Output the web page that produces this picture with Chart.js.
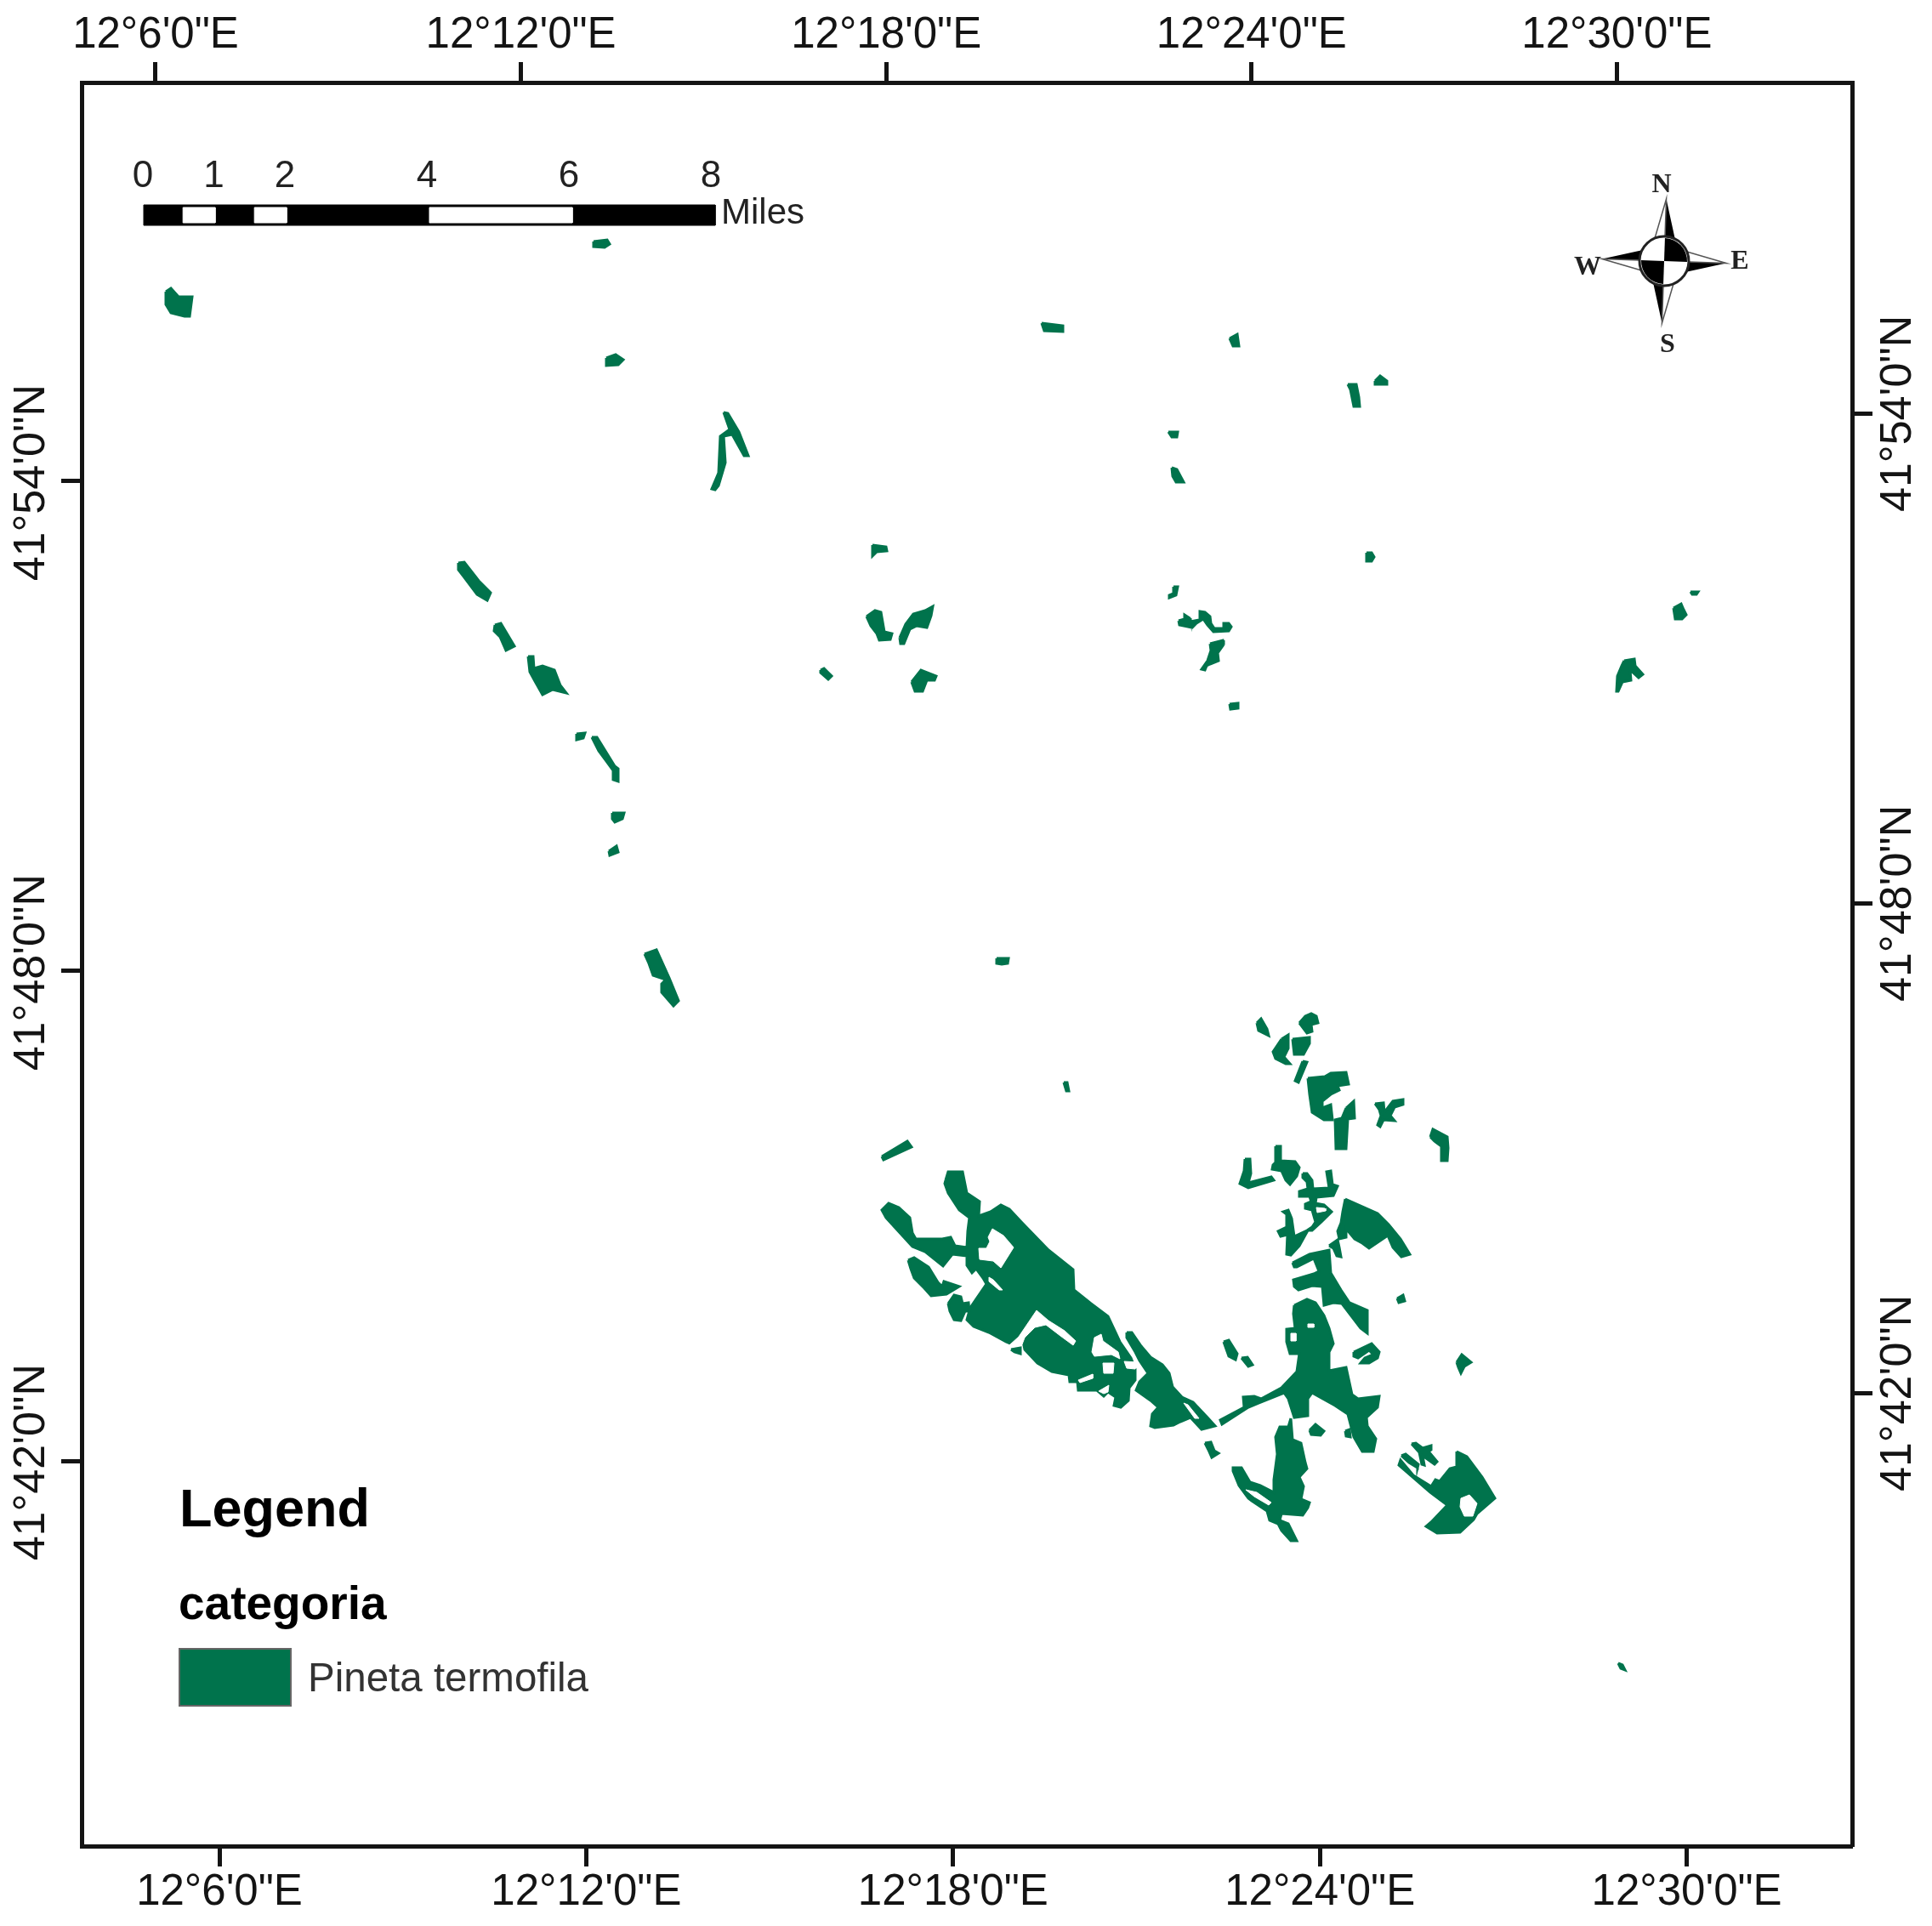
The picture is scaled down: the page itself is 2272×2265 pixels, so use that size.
<!DOCTYPE html>
<html>
<head>
<meta charset="utf-8">
<title>Pineta termofila</title>
<style>
  html, body { margin: 0; padding: 0; background: #fff; }
  canvas { display: block; }
</style>
<script src="https://cdn.jsdelivr.net/npm/chart.js@4/dist/chart.umd.js"></script>
</head>
<body>
<canvas id="myChart" width="2272" height="2265"></canvas>
<script>
// graticule, in arc minutes past 12 deg E and 41 deg N
const lonTicks = [6, 12, 18, 24, 30];
const lonTickLabels = ['12°6\'0"E', '12°12\'0"E', '12°18\'0"E', '12°24\'0"E', '12°30\'0"E'];
const latTicks = [42, 48, 54];
const latTickLabels = ['41°42\'0"N', '41°48\'0"N', '41°54\'0"N'];

// scale bar
const barMiles = [0, 1, 2, 4, 6, 8];
const barWhite = [[0.55, 1], [1.55, 2], [4, 6]];

const patchMain = [1112,1388, 1115,1378, 1132,1378, 1137,1403, 1152,1413, 1151,1430, 1165,1425, 1177,1417, 1187,1422, 1202,1438, 1233,1470, 1262,1493, 1263,1517, 1283,1533, 1303,1548, 1310,1563, 1317,1578, 1330,1597, 1335,1610, 1335,1623, 1328,1632, 1327,1647, 1318,1655, 1310,1653, 1312,1643, 1303,1637, 1298,1642, 1290,1635, 1268,1635, 1267,1625, 1258,1625, 1257,1617, 1237,1613, 1220,1603, 1205,1587, 1203,1577, 1193,1582, 1183,1578, 1163,1567, 1145,1560, 1137,1552, 1141,1538, 1160,1510, 1156,1503, 1148,1492, 1143,1497, 1137,1488, 1137,1477, 1120,1475, 1109,1489, 1088,1472, 1073,1466, 1042,1432, 1037,1423, 1045,1415, 1057,1420, 1070,1432, 1073,1450, 1077,1457, 1108,1457, 1118,1455, 1123,1465, 1137,1467, 1138,1448, 1140,1432, 1128,1423, 1115,1403, 1111,1392];
const patchRiverEnd = [1325,1567, 1331,1567, 1342,1583, 1353,1596, 1367,1605, 1375,1615, 1379,1631, 1390,1643, 1403,1649, 1420,1667, 1429,1677, 1413,1681, 1400,1667, 1398,1668, 1388,1672, 1380,1676, 1358,1679, 1353,1677, 1355,1663, 1362,1655, 1353,1647, 1336,1635, 1340,1625, 1350,1615, 1340,1600, 1335,1590, 1325,1573];
const patchWestA = [1068,1482, 1075,1479, 1092,1490, 1103,1508, 1108,1513, 1110,1507, 1128,1513, 1113,1522, 1095,1524, 1087,1515, 1075,1503, 1071,1492];
const patchWestB = [1115,1533, 1122,1523, 1130,1525, 1132,1533, 1139,1532, 1140,1542, 1135,1542, 1130,1553, 1122,1552, 1117,1542];
const patchSliver = [1189,1587, 1200,1585, 1200,1592, 1193,1590];
const patchArrow = [1037,1360, 1067,1342, 1072,1349, 1039,1364];
const patchSpeck = [1251,1273, 1255,1273, 1257,1283, 1254,1283];

const patchCentral = [1522,1535, 1537,1528, 1547,1532, 1557,1547, 1563,1562, 1568,1580, 1563,1590, 1563,1612, 1583,1608, 1590,1640, 1597,1645, 1622,1642, 1620,1655, 1607,1667, 1608,1677, 1618,1692, 1615,1707, 1602,1707, 1592,1690, 1585,1663, 1570,1653, 1543,1638, 1538,1645, 1538,1665, 1522,1667, 1515,1645, 1510,1638, 1480,1650, 1468,1655, 1437,1675, 1435,1670, 1463,1655, 1462,1643, 1475,1642, 1483,1645, 1507,1632, 1525,1613, 1528,1592, 1517,1592, 1513,1578, 1513,1563, 1523,1562, 1521,1545];
const patchSouth = [1518,1668, 1520,1693, 1530,1697, 1535,1720, 1537,1727, 1528,1737, 1533,1748, 1530,1763, 1540,1767, 1538,1773, 1532,1782, 1507,1780, 1505,1788, 1515,1792, 1525,1812, 1518,1812, 1507,1800, 1503,1792, 1493,1788, 1490,1777, 1472,1765, 1468,1762, 1457,1747, 1450,1730, 1450,1726, 1460,1726, 1470,1743, 1482,1747, 1498,1755, 1498,1740, 1502,1710, 1500,1690, 1505,1678, 1515,1678];
const patchBlobA = [1540,1682, 1547,1675, 1557,1683, 1553,1688, 1542,1687];
const patchBlobB = [1582,1683, 1587,1681, 1588,1690, 1583,1689];
const patchBlobC = [1439,1578, 1445,1576, 1455,1592, 1453,1599, 1445,1595];
const patchBlobD = [1460,1597, 1467,1596, 1473,1605, 1468,1607];
const patchBlobE = [1417,1697, 1424,1696, 1428,1706, 1433,1709, 1425,1714, 1421,1705];
const patchCrescent = [1592,1590, 1613,1580, 1622,1590, 1620,1597, 1610,1603, 1600,1603, 1605,1597, 1615,1593, 1610,1588, 1597,1597, 1592,1595];
const patchDot = [1713,1602, 1719,1593, 1730,1602, 1722,1607, 1718,1615, 1715,1608];
const patchDotB = [1643,1527, 1650,1523, 1652,1530, 1645,1532];
const patchSouthEast = [1713,1707, 1725,1713, 1743,1737, 1758,1762, 1737,1780, 1733,1787, 1717,1802, 1690,1803, 1677,1795, 1683,1790, 1702,1770, 1682,1755, 1645,1723, 1647,1717, 1662,1735, 1683,1748, 1688,1740, 1693,1742, 1705,1727, 1713,1725];
const patchStrip = [1648,1712, 1653,1710, 1668,1722, 1667,1726, 1657,1720];
const patchCross = [1660,1698, 1665,1697, 1673,1703, 1683,1700, 1683,1705, 1680,1707, 1690,1719, 1687,1722, 1673,1712, 1675,1723, 1672,1722, 1669,1708];

const patchUpA = [1478,1203, 1483,1198, 1490,1210, 1492,1218, 1480,1212];
const patchUpB = [1528,1203, 1535,1195, 1542,1192, 1548,1195, 1550,1203, 1542,1205, 1543,1213, 1537,1215];
const patchUpC = [1507,1222, 1515,1217, 1515,1233, 1510,1243, 1517,1251, 1512,1251, 1500,1245, 1497,1237];
const patchUpD = [1520,1222, 1540,1220, 1540,1227, 1533,1240, 1522,1240];
const patchUpE = [1532,1248, 1537,1249, 1527,1273, 1523,1271];
const patchUpF = [1538,1268, 1558,1266, 1565,1262, 1583,1261, 1586,1275, 1573,1277, 1575,1282, 1565,1287, 1555,1295, 1555,1303, 1565,1299, 1567,1317, 1557,1317, 1543,1308, 1540,1287];
const patchUpG = [1583,1303, 1592,1295, 1593,1315, 1585,1316, 1583,1351, 1571,1351, 1570,1317, 1578,1315];
const patchUpH = [1617,1298, 1627,1297, 1628,1308, 1638,1295, 1650,1293, 1650,1299, 1640,1302, 1635,1312, 1640,1318, 1627,1317, 1623,1325, 1620,1323, 1624,1312, 1622,1305];
const patchUpI = [1682,1337, 1685,1328, 1702,1337, 1703,1350, 1702,1365, 1695,1365, 1695,1348, 1687,1342];
const patchUpJ = [1500,1348, 1506,1348, 1506,1365, 1523,1366, 1528,1373, 1525,1383, 1517,1393, 1512,1388, 1507,1377, 1496,1375, 1497,1370, 1500,1367];
const patchUpK = [1464,1363, 1470,1363, 1471,1380, 1468,1391, 1495,1384, 1498,1388, 1468,1397, 1458,1392, 1463,1377];
const patchComb = [1532,1380, 1537,1380, 1543,1388, 1544,1398, 1563,1397, 1560,1378, 1565,1377, 1567,1393, 1573,1395, 1568,1406, 1548,1408, 1547,1415, 1557,1417, 1566,1425, 1554,1437, 1543,1447, 1538,1447, 1528,1465, 1518,1476, 1513,1475, 1514,1452, 1506,1454, 1503,1448, 1513,1443, 1513,1428, 1509,1425, 1515,1423, 1519,1433, 1522,1454, 1537,1447, 1543,1443, 1547,1437, 1543,1423, 1535,1421, 1535,1416, 1542,1413, 1540,1407, 1528,1407, 1528,1401, 1538,1398, 1537,1390, 1532,1385];
const patchWedge = [1582,1410, 1600,1418, 1620,1427, 1633,1440, 1647,1457, 1658,1475, 1648,1478, 1638,1467, 1632,1453, 1610,1468, 1602,1462, 1593,1457, 1583,1445, 1583,1455, 1575,1457, 1573,1448, 1577,1438, 1579,1425];
const patchWedgeFoot = [1563,1465, 1573,1458, 1575,1467, 1577,1478, 1572,1477, 1568,1468];
const patchFork = [1520,1485, 1540,1475, 1563,1470, 1565,1497, 1577,1517, 1587,1532, 1608,1541, 1608,1568, 1600,1562, 1578,1533, 1568,1532, 1557,1535, 1555,1513, 1543,1512, 1527,1517, 1522,1513, 1521,1505, 1545,1498, 1551,1495, 1545,1480, 1525,1490, 1522,1490];

const patchNW = [195,343, 201,339, 210,349, 226,349, 223,372, 217,372, 201,368, 195,358];
const patchBarFoot = [698,284, 714,282, 717,287, 711,291, 698,290];
const patchBlobTop = [713,421, 724,417, 733,423, 727,429, 713,430];
const patchBranch = [851,485, 856,486, 869,508, 880,536, 875,536, 861,511, 851,513, 853,544, 845,571, 841,576, 837,575, 845,556, 847,513, 858,505];
const patchDiagA = [539,662, 546,661, 563,683, 577,697, 573,706, 561,699, 546,679, 539,670];
const patchDiagB = [582,735, 589,733, 605,760, 595,765, 588,749, 581,742];
const patchDiagC = [621,772, 627,772, 628,786, 638,783, 652,788, 659,806, 666,815, 650,811, 638,817, 629,801, 623,790];
const patchTick = [678,863, 688,862, 686,868, 678,870];
const patchLine = [696,867, 702,867, 723,901, 727,904, 727,919, 721,917, 721,906, 713,895, 704,883];
const patchCup = [720,956, 734,956, 732,963, 723,967, 720,963];
const patchDash = [716,1001, 725,995, 727,1002, 717,1006];
const patchDiagD = [758,1122, 772,1117, 787,1150, 798,1177, 792,1183, 778,1167, 778,1157, 783,1152, 768,1147, 763,1133];

const patchMidA = [1026,641, 1042,643, 1043,648, 1031,649, 1026,654];
const patchMidB = [1019,725, 1029,718, 1036,720, 1040,743, 1049,745, 1047,752, 1034,753, 1031,745, 1024,736];
const patchMidC = [1058,750, 1065,734, 1074,722, 1088,718, 1097,713, 1095,724, 1090,738, 1078,736, 1070,740, 1063,757, 1059,757];
const patchMidD = [965,788, 969,786, 978,795, 974,799, 965,791];
const patchMidE = [1072,802, 1083,788, 1101,795, 1099,800, 1090,800, 1085,813, 1076,813];
const patchMidF = [1172,1127, 1186,1127, 1185,1133, 1178,1134, 1172,1133];

const patchTopA = [1225,380, 1250,383, 1250,390, 1228,389];
const patchTopB = [1446,398, 1455,393, 1457,407, 1450,407];
const patchTopC = [1585,452, 1595,452, 1598,467, 1599,478, 1592,478, 1588,458];
const patchTopD = [1617,448, 1623,442, 1631,448, 1631,452, 1617,452];
const patchTopE = [1374,508, 1385,508, 1384,514, 1378,514];
const patchTopF = [1378,550, 1384,552, 1392,567, 1383,567, 1379,560];
const patchTopG = [1607,650, 1613,650, 1616,655, 1613,660, 1607,660];
const patchTopH = [1380,690, 1385,690, 1383,700, 1375,703, 1375,700, 1380,698];
const patchZigzag = [1386,730, 1393,728, 1393,723, 1399,727, 1400,731, 1410,729, 1411,719, 1417,720, 1423,725, 1424,733, 1428,739, 1438,739, 1439,733, 1445,733, 1448,737, 1445,742, 1427,743, 1420,735, 1415,728, 1407,733, 1402,738, 1397,737, 1387,735];
const patchTopI = [1423,757, 1438,753, 1439,758, 1432,768, 1433,777, 1423,781, 1419,783, 1417,788, 1413,787, 1420,777, 1424,765];
const patchTopJ = [1446,828, 1456,827, 1456,833, 1447,834];
const patchEastA = [1968,715, 1977,710, 1980,717, 1983,723, 1978,728, 1970,728];
const patchEastB = [1988,696, 1997,696, 1995,699, 1990,699];
const patchEastC = [1910,777, 1922,775, 1923,783, 1932,793, 1927,797, 1917,788, 1918,800, 1908,802, 1903,813, 1901,813, 1902,795, 1907,783];
const patchLone = [1903,1956, 1908,1958, 1911,1964, 1906,1962];

// clearings inside the patches
const holeSlit = [1187,1582, 1198,1572, 1219,1541, 1233,1553, 1252,1565, 1265,1577, 1262,1582, 1247,1571, 1230,1558, 1217,1561, 1205,1573, 1202,1581, 1192,1584];
const holeArm = [1167,1445, 1180,1453, 1192,1467, 1182,1483, 1177,1491, 1168,1483, 1152,1481, 1151,1468, 1160,1468, 1164,1460, 1162,1455];
const holeCut = [1163,1502, 1168,1505, 1179,1517, 1175,1517, 1163,1507];
const holeA = [1287,1573, 1295,1569, 1297,1577, 1315,1590, 1317,1598, 1307,1593, 1287,1595, 1284,1590];
const holeB = [1297,1603, 1310,1603, 1309,1615, 1298,1615];
const holeC = [1322,1601, 1338,1602, 1335,1610, 1325,1609];
const holeD = [1268,1623, 1285,1616, 1285,1621, 1270,1626];
const holeE = [1292,1636, 1304,1629, 1303,1637, 1298,1639];
const holeF = [1392,1650, 1397,1652, 1410,1668, 1405,1668];
const holeG = [1518,1568, 1524,1568, 1524,1577, 1518,1577];
const holeH = [1538,1557, 1545,1557, 1545,1561, 1538,1561];
const holeI = [1465,1752, 1478,1755, 1495,1767, 1492,1770, 1475,1760];
const holeJ = [1718,1762, 1728,1758, 1737,1768, 1732,1783, 1722,1783, 1717,1772];
const holeK = [1548,1420, 1558,1421, 1559,1424, 1549,1426];

const patches = [patchMain, patchRiverEnd, patchWestA, patchWestB, patchSliver, patchArrow, patchSpeck,
  patchCentral, patchSouth, patchBlobA, patchBlobB, patchBlobC, patchBlobD, patchBlobE, patchCrescent, patchDot, patchDotB,
  patchSouthEast, patchStrip, patchCross,
  patchUpA, patchUpB, patchUpC, patchUpD, patchUpE, patchUpF, patchUpG, patchUpH, patchUpI, patchUpJ, patchUpK,
  patchComb, patchWedge, patchWedgeFoot, patchFork,
  patchNW, patchBarFoot, patchBlobTop, patchBranch, patchDiagA, patchDiagB, patchDiagC, patchTick, patchLine, patchCup, patchDash, patchDiagD,
  patchMidA, patchMidB, patchMidC, patchMidD, patchMidE, patchMidF,
  patchTopA, patchTopB, patchTopC, patchTopD, patchTopE, patchTopF, patchTopG, patchTopH, patchZigzag, patchTopI, patchTopJ,
  patchEastA, patchEastB, patchEastC, patchLone];
const holes = [holeSlit, holeArm, holeCut, holeA, holeB, holeC, holeD, holeE, holeF, holeG, holeH, holeI, holeJ, holeK];

const GREEN = '#00734c';
const INK = '#141414';

// georeference of the scan: col,row to the bottom and left graticule
const toLon = (col) => 6 + (col - 258) / 71.9;
const toLat = (row) => 54 + (566 - row) / 96;

const toPoints = (flat) => {
    var pts = [];
    for (var i = 0; i < flat.length; i += 2) {
        pts.push({x: toLon(flat[i]), y: toLat(flat[i + 1])});
    }
    pts.push(pts[0]);
    return pts;
};

const shape = (flat, color, order, edge) => ({
    data: toPoints(flat),
    showLine: true,
    fill: 'shape',
    tension: 0,
    pointRadius: 0,
    borderWidth: edge,
    borderColor: color,
    backgroundColor: color,
    order: order
});

// scale bar, col = barLeft + miles * barStep
const barLeft = 169, barStep = 84, barTop = 241, barBottom = 265;
const barBox = (m0, m1, inset) => {
    var c0 = barLeft + m0 * barStep, c1 = barLeft + m1 * barStep;
    return [c0, barTop + inset, c1, barTop + inset, c1, barBottom - inset, c0, barBottom - inset];
};

var datasets = [];
patches.forEach((p) => datasets.push(shape(p, GREEN, 3, 3)));
holes.forEach((p) => datasets.push(shape(p, '#ffffff', 2, 1)));
datasets.push(shape(barBox(0, 8, 0), '#000000', 1, 1));
barWhite.forEach((w) => datasets.push(shape(barBox(w[0], w[1], 3), '#ffffff', 0, 1)));

const axisBase = (tickValues, labels) => ({
    type: 'linear',
    grid: {drawOnChartArea: false, drawTicks: true, tickLength: 24, tickWidth: 5, tickColor: INK},
    border: {display: true, width: 5, color: INK},
    afterBuildTicks: (scale) => { scale.ticks = tickValues.map((v) => ({value: v})); },
    ticks: {
        autoSkip: false,
        color: INK,
        callback: (value) => labels[tickValues.indexOf(value)]
    }
});

const xAxis = (position, min, max, band) => {
    var a = axisBase(lonTicks, lonTickLabels);
    a.position = position;
    a.min = min;
    a.max = max;
    a.ticks.maxRotation = 0;
    a.ticks.minRotation = 0;
    a.ticks.padding = 0;
    a.ticks.font = {family: 'Liberation Sans', size: 51};
    a.afterFit = (scale) => { scale.height = band; };
    return a;
};

const yAxis = (position, min, max, band, pad, offset) => {
    var a = axisBase(latTicks, latTickLabels);
    a.position = position;
    a.min = min;
    a.max = max;
    a.ticks.minRotation = 90;
    a.ticks.maxRotation = 90;
    a.ticks.padding = pad;
    a.ticks.labelOffset = offset;
    a.ticks.font = {family: 'Liberation Sans', size: 52};
    a.afterFit = (scale) => { scale.width = band; };
    return a;
};

// everything on the map sheet that is not a data mark
const mapSheet = {
    id: 'mapSheet',
    afterDraw(chart) {
        const ctx = chart.ctx;
        const px = (col) => chart.scales.x.getPixelForValue(toLon(col));
        const py = (row) => chart.scales.y.getPixelForValue(toLat(row));

        ctx.save();
        ctx.textBaseline = 'alphabetic';
        ctx.textAlign = 'left';

        // legend
        ctx.fillStyle = '#000';
        ctx.font = 'bold 63px "Liberation Sans"';
        ctx.fillText('Legend', px(211), py(1795));
        ctx.font = 'bold 55px "Liberation Sans"';
        ctx.fillText('categoria', px(210), py(1904));
        ctx.fillStyle = GREEN;
        ctx.strokeStyle = '#666';
        ctx.lineWidth = 2;
        ctx.fillRect(px(211), py(1939), 131, 67);
        ctx.strokeRect(px(211), py(1939), 131, 67);
        ctx.fillStyle = '#333';
        ctx.font = '47.5px "Liberation Sans"';
        ctx.fillText('Pineta termofila', px(362), py(1989));

        // scale bar labels
        ctx.fillStyle = '#222';
        ctx.font = '44px "Liberation Sans"';
        ctx.textAlign = 'center';
        barMiles.forEach((m) => {
            ctx.fillText(String(m), px(168 + m * 83.5), py(220));
        });
        ctx.textAlign = 'left';
        ctx.font = '42px "Liberation Sans"';
        ctx.fillText('Miles', px(848), py(263));

        // north arrow
        const cx = px(1957), cy = py(307);
        ctx.save();
        ctx.translate(cx, cy);
        ctx.rotate(2 * Math.PI / 180);
        for (var i = 0; i < 4; i++) {
            ctx.save();
            ctx.rotate(i * Math.PI / 2);
            ctx.beginPath();
            ctx.moveTo(0, -73); ctx.lineTo(13, -22); ctx.lineTo(0, -22); ctx.closePath();
            ctx.fillStyle = '#000';
            ctx.fill();
            ctx.beginPath();
            ctx.moveTo(0, -73); ctx.lineTo(-13, -22); ctx.lineTo(0, -22); ctx.closePath();
            ctx.fillStyle = '#fff';
            ctx.fill();
            ctx.strokeStyle = '#555';
            ctx.lineWidth = 1.5;
            ctx.stroke();
            ctx.restore();
        }
        ctx.beginPath();
        ctx.arc(0, 0, 29, 0, Math.PI * 2);
        ctx.fillStyle = '#fff';
        ctx.fill();
        ctx.fillStyle = '#000';
        ctx.beginPath();
        ctx.moveTo(0, 0); ctx.arc(0, 0, 27, -Math.PI / 2, 0); ctx.closePath(); ctx.fill();
        ctx.beginPath();
        ctx.moveTo(0, 0); ctx.arc(0, 0, 27, Math.PI / 2, Math.PI); ctx.closePath(); ctx.fill();
        ctx.beginPath();
        ctx.arc(0, 0, 29, 0, Math.PI * 2);
        ctx.strokeStyle = '#222';
        ctx.lineWidth = 3;
        ctx.stroke();
        ctx.restore();

        ctx.fillStyle = '#222';
        ctx.font = 'bold 32px "Liberation Serif"';
        ctx.textAlign = 'center';
        ctx.fillText('N', px(1954), py(226));
        ctx.fillText('W', px(1867), py(323));
        ctx.fillText('E', px(2046), py(316));
        ctx.fillText('S', px(1961), py(414));
        ctx.restore();
    }
};

var ctx = document.getElementById('myChart').getContext('2d');
var chart = new Chart(ctx, {
    type: 'scatter',
    data: {datasets: datasets},
    plugins: [mapSheet],
    options: {
        responsive: false,
        devicePixelRatio: 1,
        animation: false,
        layout: {padding: 0},
        plugins: {
            legend: {display: false},
            tooltip: {enabled: false}
        },
        scales: {
            x: xAxis('bottom', toLon(96), toLon(2178), 94),
            x2: xAxis('top', 4.785, 33.863, 97),
            y: yAxis('left', toLat(2171), toLat(97), 96, 34, -114),
            y2: yAxis('right', 36.458, 58.0625, 94, 31, 115)
        }
    }
});
</script>
</body>
</html>
